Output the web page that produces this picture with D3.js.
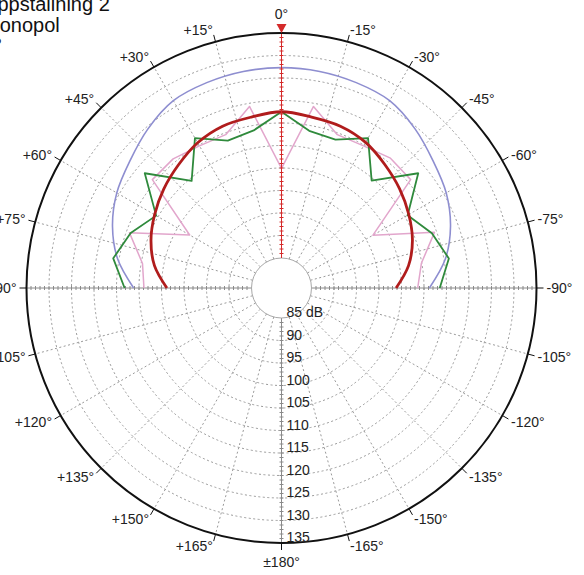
<!DOCTYPE html>
<html><head><meta charset="utf-8">
<script src="https://cdn.jsdelivr.net/npm/d3@7"></script>
<style>
html,body{margin:0;padding:0;background:#fff;}
svg{display:block;font-family:"Liberation Sans",Arial,sans-serif;}
</style></head>
<body>
<svg id="chart" width="584" height="575"></svg>
<script>
// ---- data ----
const titleLines = ["Uppställning 2", "Monopol", "0°"];
const angles = [-90,-80,-70,-60,-50,-40,-30,-20,-10,0,10,20,30,40,50,60,70,80,90];
const blueValues  = [111.2,115.3,118.3,120.6,122.3,124.5,126.4,126.9,127.2,127.3,127.2,126.9,126.4,124.5,122.3,120.6,118.3,115.3,111.2];
const pinkValues  = [108.6,109.9,114.5,101.8,115.8,116.0,114.8,114.6,119.3,104.9,119.3,114.6,114.8,115.8,115.8,101.9,114.3,109.7,108.9];
const greenValues = [113.5,116.1,113.9,110.7,118.0,109.5,116.8,113.4,113.8,117.5,113.9,113.2,116.8,109.4,118.0,110.5,114.0,116.3,113.2];
const redValues   = [103.8,107.0,109.3,111.0,112.6,114.1,115.7,116.6,116.9,117.5,116.9,116.6,115.6,114.0,112.5,110.9,109.2,107.0,103.8];
const dbTicks = [85,90,95,100,105,110,115,120,125,130,135];
const dbLabels = ["85 dB","90","95","100","105","110","115","120","125","130","135"];
const angleTicks = [0,15,30,45,60,75,90,105,120,135,150,165,180,-165,-150,-135,-120,-105,-90,-75,-60,-45,-30,-15];
const angleLabels = ["0°","+15°","+30°","+45°","+60°","+75°","+90°","+105°","+120°","+135°","+150°","+165°","±180°","-165°","-150°","-135°","-120°","-105°","-90°","-75°","-60°","-45°","-30°","-15°"];

// ---- layout ----
const cx = 281.5, cy = 288;
const r = d3.scaleLinear().domain([85,135]).range([30,255]);
const rad = d => -d * Math.PI / 180;   // + angles to the left (counter-clockwise)
const px = (deg, rr) => cx + rr * Math.sin(rad(deg));
const py = (deg, rr) => cy - rr * Math.cos(rad(deg));

const svg = d3.select("#chart");
const g = svg.append("g");

// title
svg.append("g").selectAll("text").data(titleLines).join("text")
  .attr("x", -17).attr("y", (d,i) => 11 + i*21)
  .attr("font-size", 20).attr("fill", "#111").text(d => d);

// rings
g.selectAll("circle.ring").data(dbTicks.slice(1, -1)).join("circle")
  .attr("cx", cx).attr("cy", cy).attr("r", d => r(d))
  .attr("fill", "none").attr("stroke", "#9a9a9a").attr("stroke-width", 1)
  .attr("stroke-dasharray", "2,2.5");

// spokes
const spokeAngles = angleTicks.filter(a => a % 90 !== 0);
g.selectAll("line.spoke").data(spokeAngles).join("line")
  .attr("x1", d => px(d, r(85))).attr("y1", d => py(d, r(85)))
  .attr("x2", d => px(d, r(135))).attr("y2", d => py(d, r(135)))
  .attr("stroke", "#9a9a9a").attr("stroke-width", 1).attr("stroke-dasharray", "2,2.5");

// axes with dB minor ticks (90, -90, 180 gray; 0 red)
const minor = d3.range(86, 135, 1);
function axis(deg, color) {
  const ag = g.append("g");
  ag.append("line")
    .attr("x1", px(deg, r(85))).attr("y1", py(deg, r(85)))
    .attr("x2", px(deg, r(135))).attr("y2", py(deg, r(135)))
    .attr("stroke", color).attr("stroke-width", 1);
  const nx = Math.cos(rad(deg)), ny = Math.sin(rad(deg));
  ag.selectAll("line.t").data(minor).join("line")
    .attr("x1", d => px(deg, r(d)) - nx*2).attr("y1", d => py(deg, r(d)) - ny*2)
    .attr("x2", d => px(deg, r(d)) + nx*2).attr("y2", d => py(deg, r(d)) + ny*2)
    .attr("stroke", color).attr("stroke-width", 1);
}
axis(90, "#8a8a8a"); axis(-90, "#8a8a8a"); axis(180, "#8a8a8a");

// hole
g.append("circle").attr("cx", cx).attr("cy", cy).attr("r", r(85))
  .attr("fill", "#fff").attr("stroke", "#a8a8a8").attr("stroke-width", 1);

// series
const line = d3.lineRadial().angle(d => rad(d[0])).radius(d => r(d[1]));
const plot = g.append("g").attr("transform", `translate(${cx},${cy})`);
const series = [
  {v: blueValues,  c: "#8e8ed0", w: 1.6, curve: d3.curveCatmullRom},
  {v: pinkValues,  c: "#e2a6cc", w: 1.5, curve: d3.curveLinear},
  {v: greenValues, c: "#2f8a3c", w: 1.8, curve: d3.curveLinear},
  {v: redValues,   c: "#b01c1c", w: 2.8, curve: d3.curveCatmullRom}
];
series.forEach(s => {
  plot.append("path")
    .attr("d", line.curve(s.curve)(angles.map((a,i) => [a, s.v[i]])))
    .attr("fill", "none").attr("stroke", s.c).attr("stroke-width", s.w)
    .attr("stroke-linejoin", "round");
});

// red 0° axis on top
axis(0, "#d42a2a");

// outer circle
g.append("circle").attr("cx", cx).attr("cy", cy).attr("r", r(135))
  .attr("fill", "none").attr("stroke", "#111").attr("stroke-width", 2);

// outer ticks
g.selectAll("line.otick").data(angleTicks).join("line")
  .attr("x1", d => px(d, r(135))).attr("y1", d => py(d, r(135)))
  .attr("x2", d => px(d, r(135)+7)).attr("y2", d => py(d, r(135)+7))
  .attr("stroke", "#111").attr("stroke-width", 1);

// triangle marker at 0°
g.append("path")
  .attr("d", `M${px(0, r(135))-5},${py(0, r(135))-9} L${px(0, r(135))+5},${py(0, r(135))-9} L${px(0, r(135))},${py(0, r(135))} Z`)
  .attr("fill", "#d42a2a");

// angle labels
g.selectAll("text.alab").data(angleTicks).join("text")
  .attr("x", d => { const ux = Math.sin(rad(d)); return px(d, r(135)+9) + (Math.abs(ux) < 0.01 ? 0 : ux*1); })
  .attr("y", d => { const ux = Math.sin(rad(d)), uy = -Math.cos(rad(d));
      return py(d, r(135)+9) + (Math.abs(ux) < 0.01 ? uy*10 : uy*3); })
  .attr("text-anchor", d => { const ux = Math.sin(rad(d)); return Math.abs(ux) < 0.01 ? "middle" : (ux < 0 ? "end" : "start"); })
  .attr("dominant-baseline", "central")
  .attr("font-size", 14).attr("fill", "#222")
  .text((d,i) => angleLabels[i]);

// dB labels
g.selectAll("text.dblab").data(dbTicks).join("text")
  .attr("x", cx + 5).attr("y", d => cy + r(d) - 1)
  .attr("font-size", 14).attr("fill", "#222")
  .text((d,i) => dbLabels[i]);
</script>
</body></html>
